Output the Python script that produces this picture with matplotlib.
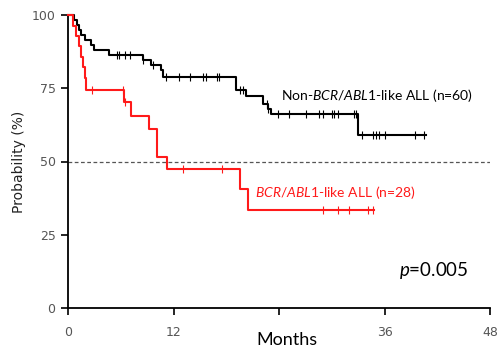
import matplotlib.pyplot as plt
import numpy as np

# Kaplan-Meier curves (months, survival %)
non_t = [0, 0.7, 1.0, 1.3, 1.5, 1.9, 2.6, 3.0, 4.7, 8.5, 9.4, 10.6, 10.8,
         19.1, 20.3, 22.2, 22.8, 23.1, 33.0]
non_s = [100, 98.3, 96.6, 94.9, 93.2, 91.5, 89.8, 88.1, 86.4, 84.7, 83.0, 81.2,
         79.0, 74.4, 72.3, 69.5, 67.8, 66.2, 59.0]
non_end = 40.7
non_cens = [5.6, 5.8, 6.5, 7.05, 8.5, 9.7, 11.15, 12.66, 13.9, 15.4, 15.7, 16.9,
            17.2, 19.6, 19.9, 22.6, 22.8, 23.9, 25.1, 27.1, 28.6, 29.0, 30.0,
            30.2, 30.75, 32.5, 32.8, 33.4, 34.7, 35.0, 35.4, 36.1, 39.5, 40.5]

like_t = [0, 0.6, 0.9, 1.2, 1.5, 1.7, 1.9, 2.1, 6.4, 7.2, 9.2, 10.1, 11.3,
          19.6, 20.5]
like_s = [100, 96.4, 92.9, 89.3, 85.7, 82.1, 78.6, 74.3, 70.2, 65.6, 61.0,
          51.4, 47.3, 40.5, 33.6]
like_end = 34.8
like_cens = [2.7, 6.3, 6.5, 13.1, 17.5, 29.0, 30.7, 32.0, 34.1, 34.7]

xticks = [0, 12, 24, 36, 48]
xticklabels = ['0', '12', '', '36', '48']
yticks = [0, 25, 50, 75, 100]

plt.rcParams['mathtext.fontset'] = 'custom'
plt.rcParams['mathtext.rm'] = 'Lato'
plt.rcParams['mathtext.it'] = 'Lato:italic'


def step_at(ts, ss, x):
    i = np.searchsorted(ts, x, side='right') - 1
    return ss[i]


fig = plt.figure(figsize=(4.98, 3.53), dpi=100)
ax = fig.add_axes([68 / 498, 45 / 353, 422 / 498, 293 / 353])

ax.axhline(50, color='#555555', lw=0.9, ls=(0, (3, 2)), zorder=1)

for ts, ss, end, cens, col in [(non_t, non_s, non_end, non_cens, 'black'),
                               (like_t, like_s, like_end, like_cens, '#ff1a1a')]:
    ax.step(ts + [end], ss + [ss[-1]], where='post', color=col, lw=1.5,
            zorder=3, clip_on=False)
    cy = [step_at(ts, ss, c) for c in cens]
    ax.plot(cens, cy, ls='none', marker='|', ms=6, mew=0.8, color=col,
            zorder=3, clip_on=False)

ax.set_xlim(0, 48)
ax.set_ylim(0, 100)
ax.set_xticks(xticks)
ax.set_xticklabels(xticklabels, family=['Liberation Sans Narrow', 'DejaVu Sans'],
                   fontsize=9, color='#555555')
ax.set_yticks(yticks)
ax.set_yticklabels([str(v) for v in yticks],
                   family=['Liberation Sans Narrow', 'DejaVu Sans'],
                   fontsize=9, color='#555555')
ax.tick_params(axis='both', direction='out', length=5, width=1.2, color='black')
ax.tick_params(axis='x', pad=8)
ax.tick_params(axis='y', pad=4)
for s in ['top', 'right']:
    ax.spines[s].set_visible(False)
for s in ['left', 'bottom']:
    ax.spines[s].set_linewidth(1.3)

ax.set_ylabel('Probability (%)', fontsize=10, family='DejaVu Sans',
              color='#222222', labelpad=4)
fig.text(287 / 498, 1 - 340 / 353, 'Months', fontsize=13, family='Lato',
         ha='center', va='center')

ax.text(24.2, 72.5, r'Non-$\mathit{BCR/ABL1}$-like ALL (n=60)', fontsize=10,
        family='Lato', color='black', va='center')
ax.text(21.3, 39.5, r'$\mathit{BCR/ABL1}$-like ALL (n=28)', fontsize=10,
        family='Lato', color='#ff1a1a', va='center')
ax.text(37.7, 12.7, r'$\mathit{p}$=0.005', fontsize=13.5, family='Lato',
        color='black', va='center')

fig.savefig('out.png', dpi=100)
